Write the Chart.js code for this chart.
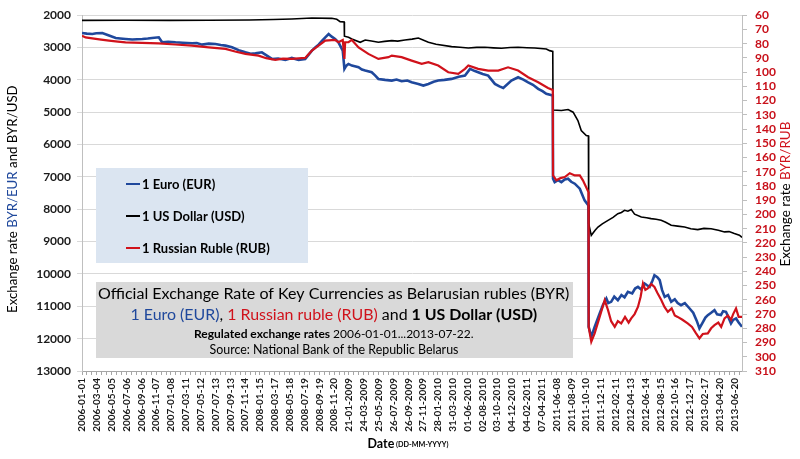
<!DOCTYPE html>
<html>
<head>
<meta charset="utf-8">
<script src="https://cdn.jsdelivr.net/npm/chart.js@4.4.1/dist/chart.umd.min.js"></script>
<style>
  html, body { margin: 0; padding: 0; background: #ffffff; }
  #wrap { width: 800px; height: 459px; }
</style>
</head>
<body>
<div id="wrap"><canvas id="c" width="800" height="459"></canvas></div>
<script>
// ---------- DATA (x = day index counted from 2006-01-01) ----------
const xTickLabels = [
  "2006-01-01","2006-03-04","2006-05-05","2006-07-06","2006-09-06","2006-11-07",
  "2007-01-08","2007-03-11","2007-05-12","2007-07-13","2007-09-13","2007-11-14",
  "2008-01-15","2008-03-17","2008-05-18","2008-07-19","2008-09-19","2008-11-20",
  "21-01-2009","24-03-2009","25-05-2009","26-07-2009","26-09-2009","27-11-2009",
  "28-01-2010","31-03-2010","01-06-2010","02-08-2010","03-10-2010","04-12-2010",
  "04-02-2011","07-04-2011","2011-06-08","2011-08-09","2011-10-10","2011-12-11",
  "2012-02-11","2012-04-13","2012-06-14","2012-08-15","2012-10-16","2012-12-17",
  "2013-02-17","2013-04-20","2013-06-20"
];

const eurDays  = [0,20,43,60,85,110,141,160,182,210,252,275,293,321,335,360,391,420,460,480,502,530,558,580,600,627,655,683,705,725,752,794,820,850,877,905,933,961,975,989,1005,1017,1031,1044,1058,1072,1090,1097,1105,1114,1128,1140,1156,1170,1184,1211,1225,1239,1267,1295,1315,1336,1360,1378,1406,1427,1448,1470,1489,1515,1545,1575,1601,1622,1640,1656,1675,1698,1726,1745,1761,1795,1823,1845,1865,1885,1907,1925,1941,1968,1969,1976,1990,2004,2018,2032,2045,2060,2081,2101,2117,2118,2129,2143,2164,2178,2192,2200,2212,2225,2240,2255,2268,2282,2300,2312,2324,2338,2352,2362,2373,2385,2393,2405,2415,2425,2436,2450,2463,2478,2490,2504,2520,2540,2555,2570,2581,2595,2606,2616,2630,2644,2655,2671,2680,2692,2700,2713,2722,2734,2745,2759];
const eurRates = [2550,2570,2581,2560,2550,2620,2704,2720,2735,2750,2735,2720,2704,2684,2838,2820,2838,2850,2869,2860,2910,2880,2889,2920,2941,2993,3080,3148,3190,3179,3148,3352,3340,3383,3321,3383,3352,3096,3000,2910,2780,2684,2581,2663,2735,2838,3096,3661,3560,3506,3557,3580,3610,3680,3713,3764,3860,3970,4000,4022,3990,4043,4020,4074,4125,4176,4125,4060,4021,4000,3969,3900,3867,3660,3720,3764,3820,3867,4123,4200,4247,4021,3919,3990,4074,4150,4278,4350,4432,4484,7055,7160,7100,7160,7080,7055,7150,7209,7364,7725,7879,11634,11943,11634,11221,10950,10758,10900,10862,10700,10810,10650,10720,10554,10600,10450,10400,10480,10296,10350,10400,10200,10039,10100,10193,10500,10709,10650,10862,10780,10900,10965,10900,11067,11200,11450,11684,11500,11350,11273,11200,11119,11250,11273,11150,11170,11300,11530,11420,11375,11500,11634];

const usdDays  = [0,180,365,530,700,800,877,961,1044,1065,1079,1096,1097,1114,1128,1163,1184,1210,1239,1265,1295,1320,1350,1380,1406,1448,1480,1545,1580,1615,1650,1684,1720,1754,1790,1823,1860,1893,1941,1955,1968,1969,2004,2032,2053,2073,2087,2108,2117,2118,2129,2145,2157,2175,2199,2220,2240,2255,2268,2282,2296,2310,2338,2360,2379,2400,2421,2440,2463,2490,2519,2545,2574,2600,2630,2660,2686,2705,2727,2748,2759];
const usdRates = [2160,2158,2160,2155,2150,2135,2118,2087,2097,2128,2200,2210,2650,2684,2735,2838,2766,2800,2838,2810,2787,2800,2766,2740,2704,2838,2900,2972,2990,3013,2995,2993,3010,3024,3000,2993,3005,3013,3043,3096,3120,4930,4947,4917,4999,5256,5564,5719,5730,8445,8805,8650,8549,8450,8342,8250,8135,8100,8033,8060,8010,8150,8240,8260,8290,8310,8342,8400,8496,8520,8549,8600,8630,8590,8600,8650,8700,8690,8750,8800,8870];

const rubDays  = [0,15,43,80,113,150,182,250,321,390,460,530,600,640,683,738,770,808,840,877,933,961,989,1017,1058,1072,1090,1097,1100,1114,1128,1156,1197,1239,1281,1295,1336,1378,1420,1448,1489,1531,1573,1601,1615,1656,1698,1740,1781,1823,1865,1907,1948,1968,1969,1983,2000,2018,2039,2060,2081,2094,2117,2118,2129,2143,2164,2185,2199,2212,2227,2240,2254,2270,2285,2296,2310,2324,2335,2345,2355,2365,2380,2393,2405,2421,2435,2449,2465,2478,2490,2510,2532,2550,2565,2581,2595,2616,2630,2644,2660,2672,2686,2700,2713,2722,2734,2745,2759];
const rubRates = [74.4,75.6,76.3,77.2,77.9,78.6,79.1,79.4,79.8,80.6,81.4,82.6,83.7,85.5,87.2,88.4,90.2,91.4,90.5,90.7,90,84.9,81.4,77.9,77.4,79,77.4,90.7,79,79,77.4,82.6,87.2,90.7,89.5,88.4,89.5,91.9,94.2,93,95.4,100.1,101.2,97.7,95.4,97.7,98.9,98.9,96.6,98.9,103.6,107.1,111.1,112.5,172.6,176,174.5,173.7,171,172.6,172.6,176,184.3,279,289.5,283.6,272,260.2,267.2,275,279,275,276.6,272,276,273,270,265,258,248.5,253,252,249,251,255,260,265,268.4,266,271,272,274,276.6,279,283,287,284,283.6,280,277.8,276,279,273,271,274,270,266,272,272];

const seriesLabels = ["1 Euro (EUR)", "1 US Dollar (USD)", "1 Russian Ruble (RUB)"];
const lastDay = 2759;
const labelStep = 62;

// ---------- STYLE ----------
const FONT = "Lato, 'Open Sans', sans-serif";
const C_EUR = "#1f489c", C_USD = "#000000", C_RUB = "#d0121b";

function pts(days, vals) { return days.map((d, i) => ({ x: d, y: vals[i] })); }

function drawRuns(ctx, runs, cx, cy, targetW, baseSize) {
  let w = 0;
  runs.forEach(r => { ctx.font = (r.bold ? "bold " : "") + (baseSize * (r.scale || 1)) + "px " + FONT; w += ctx.measureText(r.t).width; });
  const k = targetW / w;
  let x = cx - targetW / 2;
  ctx.textBaseline = "middle";
  ctx.textAlign = "left";
  runs.forEach(r => {
    ctx.font = (r.bold ? "bold " : "") + (baseSize * k * (r.scale || 1)) + "px " + FONT;
    ctx.fillStyle = r.color || "#000";
    ctx.fillText(r.t, x, cy + (r.dy || 0));
    x += ctx.measureText(r.t).width;
  });
}

const decor = {
  id: "decor",
  afterDatasetsDraw(chart) {
    const ctx = chart.ctx;
    ctx.save();
    ctx.fillStyle = "#dbe5f1";
    ctx.fillRect(96, 168, 212, 95);
    const ys = [184, 216, 248];
    chart.data.datasets.forEach((ds, i) => {
      ctx.strokeStyle = ds.borderColor;
      ctx.lineWidth = 2;
      ctx.beginPath(); ctx.moveTo(126, ys[i]); ctx.lineTo(140, ys[i]); ctx.stroke();
      ctx.font = "bold 13px " + FONT;
      ctx.fillStyle = "#000"; ctx.textBaseline = "middle"; ctx.textAlign = "left";
      ctx.fillText(ds.label, 142, ys[i] + 1);
    });
    ctx.fillStyle = "#d9d9d9";
    ctx.fillRect(96, 282, 477, 76);
    drawRuns(ctx, [{ t: "Official Exchange Rate of Key Currencies as Belarusian rubles (BYR)" }], 334, 294, 472, 16);
    drawRuns(ctx, [
      { t: "1 Euro (EUR)", color: C_EUR },
      { t: ", ", color: "#000" },
      { t: "1 Russian ruble (RUB)", color: C_RUB },
      { t: " and ", color: "#000" },
      { t: "1 US Dollar (USD)", color: "#000", bold: true }
    ], 334, 315, 407, 16);
    drawRuns(ctx, [
      { t: "Regulated exchange rates ", bold: true },
      { t: "2006-01-01...2013-07-22." }
    ], 334, 334, 280, 12);
    drawRuns(ctx, [{ t: "Source: National Bank of the Republic Belarus" }], 334, 350, 249, 12);
    ctx.restore();
  },
  afterDraw(chart) {
    const ctx = chart.ctx;
    ctx.save();
    ctx.translate(13, 199); ctx.rotate(-Math.PI / 2);
    drawRuns(ctx, [
      { t: "Exchange rate " }, { t: "BYR/EUR", color: C_EUR }, { t: " and " }, { t: "BYR/USD" }
    ], 0, 0, 228, 14);
    ctx.restore();
    ctx.save();
    ctx.translate(786, 194); ctx.rotate(-Math.PI / 2);
    drawRuns(ctx, [{ t: "Exchange rate " }, { t: "BYR/RUB", color: C_RUB }], 0, 0, 145, 14);
    ctx.restore();
    ctx.save();
    drawRuns(ctx, [
      { t: "Date", bold: true },
      { t: " (DD-MM-YYYY)", bold: true, scale: 0.58, dy: 1 }
    ], 408, 444, 81, 12);
    ctx.restore();
  }
};

new Chart(document.getElementById("c"), {
  type: "line",
  data: {
    datasets: [
      { label: seriesLabels[0], data: pts(eurDays, eurRates), borderColor: C_EUR, borderWidth: 2.6, yAxisID: "y", order: 3 },
      { label: seriesLabels[1], data: pts(usdDays, usdRates), borderColor: C_USD, borderWidth: 1.6, yAxisID: "y", order: 2 },
      { label: seriesLabels[2], data: pts(rubDays, rubRates), borderColor: C_RUB, borderWidth: 2.2, yAxisID: "y2", order: 1 }
    ]
  },
  options: {
    responsive: false,
    animation: false,
    devicePixelRatio: 1,
    layout: { padding: { top: 14, left: 0, right: 0, bottom: 0 } },
    elements: { point: { radius: 0 }, line: { tension: 0, fill: false } },
    plugins: { legend: { display: false }, tooltip: { enabled: false } },
    scales: {
      x: {
        type: "linear", min: 0, max: lastDay,
        afterBuildTicks(scale) {
          const t = [];
          for (let k = 0; k * labelStep / 3 <= lastDay; k++) t.push({ value: k * labelStep / 3 });
          scale.ticks = t;
        },
        afterFit(scale) { scale.height = 88; },
        grid: { drawOnChartArea: false, drawTicks: true, tickLength: 4, color: "#a6a6a6" },
        border: { color: "#a6a6a6" },
        ticks: {
          autoSkip: false, maxRotation: 90, minRotation: 90, padding: 3,
          color: "#1a1a1a", font: { family: FONT, size: 10, weight: "bold" },
          callback(v, i) { return i % 3 === 0 ? (xTickLabels[i / 3] || "") : ""; }
        }
      },
      y: {
        position: "left", reverse: true, min: 2000, max: 13000,
        afterFit(scale) { scale.width = 82; },
        grid: { color: "#d9d9d9", tickLength: 5 },
        border: { color: "#bfbfbf" },
        ticks: { stepSize: 1000, padding: 6, color: "#1a1a1a", font: { family: FONT, size: 12, weight: "bold" },
          callback(v) { return String(v); } }
      },
      y2: {
        position: "right", reverse: true, min: 60, max: 310,
        afterFit(scale) { scale.width = 58; },
        grid: { drawOnChartArea: false, tickLength: 5, color: "#bfbfbf" },
        border: { color: "#bfbfbf" },
        ticks: { stepSize: 10, autoSkip: false, padding: 8, color: "#c8101a", font: { family: FONT, size: 12, weight: "bold" },
          callback(v) { return String(v); } }
      }
    }
  },
  plugins: [decor]
});
</script>
</body>
</html>
